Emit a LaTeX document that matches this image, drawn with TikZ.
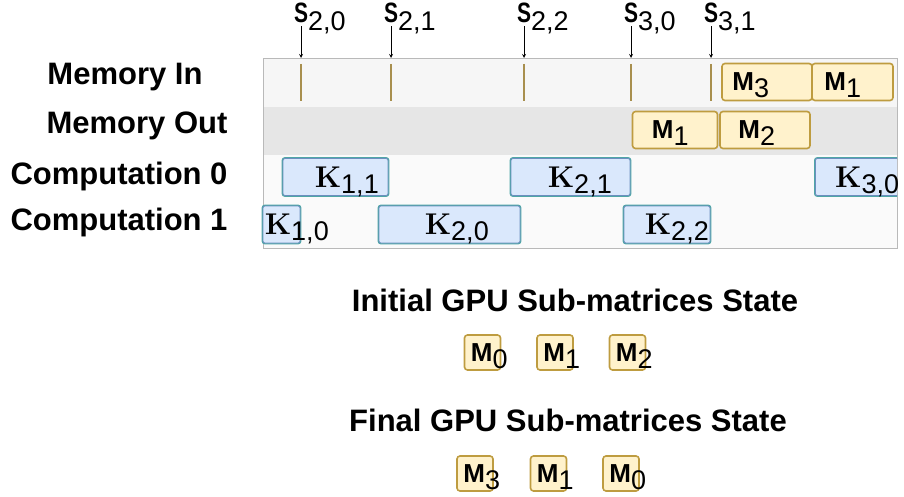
\documentclass[tikz,border=0pt]{standalone}
\usepackage{fontspec}
\setmainfont{Liberation Sans}
\usetikzlibrary{positioning}
\usetikzlibrary{arrows}
\definecolor{memfill}{HTML}{FFF2CC}
\definecolor{memdraw}{HTML}{BE9C40}
\definecolor{kfill}{HTML}{DAE8FC}
\definecolor{kdraw}{HTML}{6C8EBF}
\definecolor{kglow}{HTML}{4FA6A6}
\definecolor{rowin}{HTML}{F6F6F6}
\definecolor{rowout}{HTML}{E6E6E6}
\definecolor{rowcomp}{HTML}{FAFAFA}
\definecolor{tickcol}{HTML}{A88F4E}
\newcommand\lowsub[2][7pt]{\rlap{\smash{\raisebox{-#1}{\fontseries{m}\fontsize{27}{27}\selectfont #2}}}}
\newcommand\mlab[1]{\textbf{M}\lowsub{#1}}
\newcommand\klab[1]{{\fontspec{Latin Modern Roman}\fontsize{30}{30}\selectfont\bfseries K}\lowsub[6pt]{#1}}
\newcommand\slab[1]{\scalebox{0.75}[1]{\textbf{S}}\lowsub[8pt]{#1}}
\tikzset{
  rowlabel/.style={font=\bfseries\fontsize{31}{31}\selectfont},
  slabel/.style={font=\fontsize{28}{28}\selectfont, inner sep=3pt, anchor=base},
  mbox/.style={draw=memdraw, line width=1.6pt, fill=memfill, rounded corners=3pt,
    minimum height=37, inner sep=0},
  msmall/.style={mbox, minimum width=36, minimum height=35},
  mtext/.style={font=\fontsize{26}{26}\selectfont, inner sep=0},
  kbox/.style={preaction={draw=kglow, line width=2.8pt}, draw=kdraw, line width=0.8pt,
    fill=kfill, rounded corners=2pt, minimum height=37, inner sep=0},
  ktext/.style={font=\fontsize{27}{27}\selectfont, inner sep=0},
  title/.style={font=\bfseries\fontsize{31}{31}\selectfont},
}
\begin{document}
\begin{tikzpicture}[x=1pt, y=-1pt]
    \useasboundingbox (0,0) rectangle (904,497);

    % timeline panel
    \fill[rowin] (263,58) rectangle (897,107);
    \fill[rowout] (263,107) rectangle (897,155);
    \fill[rowcomp] (263,155) rectangle (897,248);
    \draw[gray!55] (263,58) rectangle (897,248);

    \node[rowlabel] (lin) at (125,77) {Memory In};
    \node[rowlabel] (lout) at (137,126) {Memory Out};
    \node[rowlabel] (lc0) at (119,176) {Computation 0};
    \node[rowlabel] (lc1) at (119,222) {Computation 1};

    % sync points
    \node[slabel] (s20) at (301,23) {\slab{2,0}};
    \node[slabel] (s21) at (391,23) {\slab{2,1}};
    \node[slabel] (s22) at (524,23) {\slab{2,2}};
    \node[slabel] (s30) at (631,23) {\slab{3,0}};
    \node[slabel] (s31) at (711,23) {\slab{3,1}};
    \coordinate (t20) at (301,58);
    \coordinate (t21) at (391,58);
    \coordinate (t22) at (524,58);
    \coordinate (t30) at (631,58);
    \coordinate (t31) at (711,58);
    \draw[-stealth, thick] (s20) -- (t20);
    \draw[-stealth, thick] (s21) -- (t21);
    \draw[-stealth, thick] (s22) -- (t22);
    \draw[-stealth, thick] (s30) -- (t30);
    \draw[-stealth, thick] (s31) -- (t31);
    \draw[tickcol, line width=1.5pt] (301,64) -- (301,101);
    \draw[tickcol, line width=1.5pt] (391,64) -- (391,101);
    \draw[tickcol, line width=1.5pt] (524,64) -- (524,101);
    \draw[tickcol, line width=1.5pt] (631,64) -- (631,101);
    \draw[tickcol, line width=1.5pt] (711,64) -- (711,101);

    % memory transfers
    \node[mbox, minimum width=90] (in3) at (767,82) {};
    \node[mbox, minimum width=81] (in1) at (852.5,82) {};
    \node[mbox, minimum width=85] (out1) at (675,130) {};
    \node[mbox, minimum width=90] (out2) at (765,130) {};
    \node[mtext, right=11pt of in3.west] (in3t) {\mlab{3}};
    \node[mtext, right=13pt of in1.west] (in1t) {\mlab{1}};
    \node[mtext, right=20pt of out1.west] (out1t) {\mlab{1}};
    \node[mtext, right=19pt of out2.west] (out2t) {\mlab{2}};

    % kernels
    \node[kbox, minimum width=105] (k11) at (335.5,177) {};
    \node[kbox, minimum width=119] (k21) at (570.5,177) {};
    \begin{scope}
      \clip (263,58) rectangle (897,248);
      \node[kbox, minimum width=90, anchor=west] (k30) at (815,177) {};
      \node[ktext, right=20pt of k30.west] (k30t) {\klab{3,0}};
    \end{scope}
    \node[kbox, minimum width=37] (k10) at (281.5,224.5) {};
    \node[kbox, minimum width=141] (k20) at (449.5,224.5) {};
    \node[kbox, minimum width=86] (k22) at (667,224.5) {};
    \node[ktext, right=32pt of k11.west] (k11t) {\klab{1,1}};
    \node[ktext, right=37pt of k21.west] (k21t) {\klab{2,1}};
    \node[ktext, right=2pt of k10.west] (k10t) {\klab{1,0}};
    \node[ktext, right=46pt of k20.west] (k20t) {\klab{2,0}};
    \node[ktext, right=21pt of k22.west] (k22t) {\klab{2,2}};

    % sub-matrix states
    \node[title] (init) at (575,300) {Initial GPU Sub-matrices State};
    \node[msmall] (a0) at (482.5,352.5) {};
    \node[msmall] (a1) at (555,352.5) {};
    \node[msmall] (a2) at (627.5,352.5) {};
    \node[mtext, right=7pt of a0.west] (a0t) {\mlab{0}};
    \node[mtext, right=7pt of a1.west] (a1t) {\mlab{1}};
    \node[mtext, right=7pt of a2.west] (a2t) {\mlab{2}};
    \node[title] (final) at (568,420) {Final GPU Sub-matrices State};
    \node[msmall] (b3) at (475,473.5) {};
    \node[msmall] (b1) at (548.5,473.5) {};
    \node[msmall] (b0) at (621,473.5) {};
    \node[mtext, right=7pt of b3.west] (b3t) {\mlab{3}};
    \node[mtext, right=7pt of b1.west] (b1t) {\mlab{1}};
    \node[mtext, right=7pt of b0.west] (b0t) {\mlab{0}};
\end{tikzpicture}
\end{document}
